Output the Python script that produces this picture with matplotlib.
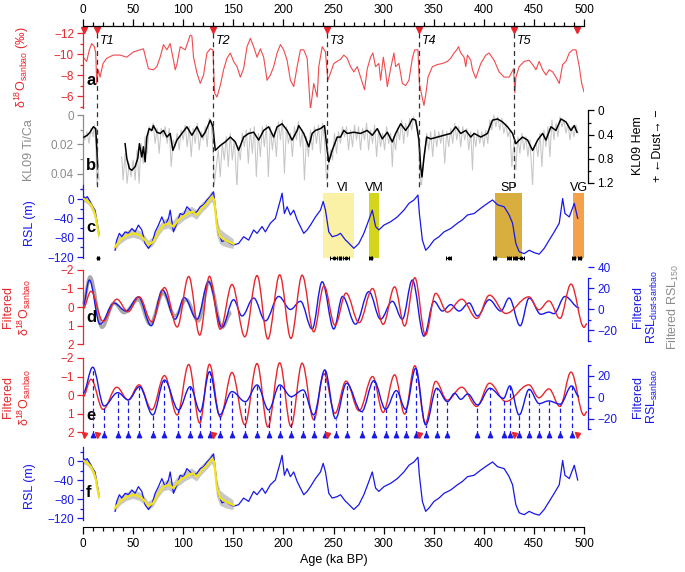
import numpy as np
import matplotlib.pyplot as plt
from matplotlib.path import Path
from matplotlib.patches import PathPatch
from matplotlib.lines import Line2D
from matplotlib.ticker import MultipleLocator, FuncFormatter
from matplotlib.transforms import blended_transform_factory

plt.rcParams['font.family'] = ['Liberation Sans', 'DejaVu Sans']
plt.rcParams['mathtext.fontset'] = 'custom'
plt.rcParams['mathtext.rm'] = 'Liberation Sans'
plt.rcParams['mathtext.it'] = 'Liberation Sans:italic'
plt.rcParams['mathtext.bf'] = 'Liberation Sans:bold'

# ---------------- data ----------------
# a: Sanbao d18O (permil)
d18o_t = [0, 3.7, 6.3, 8.7, 11.3, 12.7, 13.7, 15.3, 17, 20, 23.7, 30.3, 37, 43.7, 50.3, 57, 60.3,
          65.3, 70.3, 73.7, 77, 80.3, 83.7, 87, 90.3, 92, 93.7, 97, 102, 107, 108.7, 110.3, 113.7,
          117, 120.3, 123.7, 127, 129.7, 131.3, 133.7, 137, 140.3, 143.7, 147, 150.3, 153.7, 157,
          160.3, 163.7, 167, 170.3, 173.7, 177, 180.3, 183.7, 187, 190.3, 193.7, 197, 200.3, 203.7,
          207, 210.3, 213.7, 217, 220.3, 223.7, 227, 230.3, 233.7, 235.3, 238.7, 242, 244.3, 247,
          250.3, 257, 260.3, 263.7, 267, 270.3, 273.7, 277, 281, 283.7, 287, 289.3, 292, 295.3, 297,
          299.7, 302, 303.7, 307, 310.3, 312, 315.3, 318.7, 322, 325.3, 328.7, 331, 334.3, 335.7,
          338, 340.3, 342.3, 344.3, 348.7, 353.7, 358.7, 363.7, 367, 370.3, 373, 374.7, 377, 380.3,
          382, 383.7, 387, 388.7, 392, 397, 402, 405.3, 410.3, 415.3, 420.3, 425.3, 429.7, 431, 432,
          435.3, 440.3, 445.3, 448.7, 452, 455.3, 458.7, 462, 465.3, 468.7, 472, 475.3, 478.7, 482,
          485.3, 488.7, 492, 495.3, 497.7, 500]
d18o_v = [-9.7, -9.3, -10.4, -11.0, -10.7, -10.1, -7.2, -8.5, -7.8, -9.1, -9.6, -9.9, -9.9, -9.7,
          -10.2, -10.4, -10.5, -8.6, -8.5, -8.8, -9.7, -10.9, -10.4, -11.0, -9.4, -8.5, -9.0, -10.7,
          -10.4, -11.8, -11.7, -9.7, -8.2, -7.2, -8.0, -10.1, -10.5, -10.4, -6.3, -5.9, -7.0, -8.5,
          -9.6, -10.1, -9.3, -8.8, -7.8, -8.6, -10.7, -11.5, -10.7, -9.7, -10.5, -9.7, -7.5, -8.0,
          -8.8, -10.1, -10.9, -10.4, -9.4, -7.5, -6.9, -8.8, -10.4, -10.4, -9.6, -4.7, -7.2, -5.9,
          -8.8, -10.7, -10.2, -7.5, -8.2, -9.1, -9.5, -9.9, -9.6, -8.8, -8.3, -8.8, -7.8, -6.6, -8.6,
          -9.7, -10.1, -8.8, -9.1, -7.5, -9.7, -8.3, -6.9, -8.6, -10.1, -8.8, -9.1, -7.2, -7.0, -7.5,
          -9.6, -10.4, -10.4, -7.2, -6.1, -5.1, -6.3, -7.8, -8.8, -9.0, -9.1, -9.3, -9.6, -10.1,
          -10.4, -10.7, -10.1, -9.7, -8.8, -9.9, -9.4, -8.5, -7.7, -9.1, -9.9, -10.1, -9.4, -8.3,
          -7.8, -7.8, -8.6, -6.3, -7.8, -8.8, -9.3, -9.4, -9.0, -8.5, -9.3, -8.5, -8.0, -8.5, -8.3,
          -7.8, -7.2, -9.0, -9.3, -10.1, -10.4, -10.4, -8.8, -7.2, -6.4]
term_t = [1, 13.5, 130, 243.5, 335.5, 430, 493.5]
term_names = ['', 'T1', 'T2', 'T3', 'T4', 'T5', '']

# b: KL09 hematite (black, right axis) and Ti/Ca (grey, left axis)
hem_t = [1, 4.3, 7, 10.3, 12.7, 13.7, 14.7, 28,
         42, 43.7, 46.3, 48.7, 52, 54.7, 56.3, 58.7, 60.3, 62, 63.7, 66, 68.7, 70.3, 73.7, 77,
         80.3, 83.7, 87, 89.7, 93.7, 98.7, 103.7, 108.7, 113.7, 118.7, 122, 127, 129.7, 132, 137,
         142, 147, 152, 155.3, 160.3, 165.3, 170.3, 175.3, 180.3, 185.3, 190.3, 193.7, 198.7,
         203.7, 208.7, 213.7, 215.3, 220.3, 225.3, 228.7, 232, 237, 241, 243.7, 245.3, 248.7,
         253.7, 257, 260.3, 263.7, 270.3, 277, 283.7, 288.7, 293.7, 298.7, 303.7, 308.7, 312, 317,
         322, 325.3, 328.7, 332, 335.3, 337, 338.3, 340.3, 343, 347, 353.7, 360.3, 367, 372, 377,
         382, 387, 390.3, 397, 403.7, 408.7, 413.7, 418.7, 423.7, 428.7, 432, 435.3, 438.7, 443.7,
         448.7, 453.7, 458.7, 462, 467, 472, 477, 482, 487, 490.3, 493]
hem_v = [0.44, 0.41, 0.36, 0.27, 0.30, 0.60, 0.93, np.nan,
         0.55, 0.79, 0.96, 0.99, 0.93, 0.79, 0.55, 0.77, 0.60, 0.85, 0.44, 0.30, 0.33, 0.25, 0.36,
         0.38, 0.33, 0.44, 0.38, 0.66, 0.49, 0.38, 0.27, 0.41, 0.27, 0.44, 0.36, 0.16, 0.27, 0.66,
         0.58, 0.52, 0.44, 0.52, 0.66, 0.44, 0.38, 0.36, 0.49, 0.33, 0.27, 0.44, 0.27, 0.22, 0.33,
         0.49, 0.33, 0.25, 0.38, 0.60, 0.38, 0.33, 0.30, 0.25, 0.66, 0.85, 0.66, 0.44, 0.44, 0.33,
         0.38, 0.36, 0.38, 0.33, 0.41, 0.30, 0.47, 0.36, 0.52, 0.38, 0.22, 0.33, 0.25, 0.14, 0.16,
         0.49, 0.93, 1.10, 0.77, 0.44, 0.47, 0.44, 0.41, 0.38, 0.27, 0.38, 0.33, 0.44, 0.38, 0.44,
         0.38, 0.16, 0.14, 0.19, 0.27, 0.38, 0.55, 0.49, 0.44, 0.49, 0.66, 0.49, 0.38, 0.49, 0.27,
         0.33, 0.14, 0.19, 0.33, 0.25, 0.36]
tica_t = [0, 2, 4, 6, 8, 10, 11.5, 13, 14, 15, 16, 28,
          38.7, 40, 42, 44, 46, 48, 50, 52, 54, 56, 58, 60, 62, 64, 66, 68, 70, 72, 74, 76, 78, 80,
          82, 84, 86, 88, 90, 92, 94, 96, 98, 100, 102, 104, 106, 108, 110, 112, 114, 116, 118,
          120, 122, 124, 126, 128, 130, 131, 133, 135, 137, 139, 141, 143, 145, 147, 149, 151,
          153.7, 155, 157, 159, 161, 163, 165, 167, 169, 171, 173, 175, 177, 179, 181, 183, 185,
          187, 189, 191, 193, 195, 197, 199, 201, 203, 205, 207, 209, 211, 213, 215, 217, 219, 221,
          223, 225, 227, 229, 231, 233, 235, 237, 239, 241, 243, 245, 247, 249, 251, 253, 255, 257,
          259, 261, 263, 265, 267, 269, 271, 273, 275, 277, 279, 281, 283, 285, 287, 289, 291, 293,
          295, 297, 299, 301, 303, 305, 307, 308.7, 310, 312, 314, 316, 318, 320, 322, 324, 326,
          328, 330, 332, 334, 336, 337.5, 339, 341, 343, 345, 347, 349, 351, 353, 355, 357, 359,
          361, 363, 365, 367, 369, 371, 373, 375, 377, 379, 381, 383, 385, 387, 388.7, 390, 392,
          394, 396, 398, 400, 402, 404, 406, 408, 410, 412, 414, 416, 418, 420, 422, 424, 426, 428,
          430, 432, 434, 436, 438, 440, 442, 444, 446, 448.7, 450, 452, 454, 456, 458, 460, 462,
          464, 466, 468, 470, 472, 474, 476, 478, 480, 482, 484, 486, 488, 490, 492, 494]
tica_v = [0.0124, 0.0169, 0.0113, 0.0192, 0.0090, 0.0147, 0.0068, 0.0237, 0.0497, 0.0350,
          0.0441, np.nan,
          0.0282, 0.0441, 0.0260, 0.0463, 0.0328, 0.0418, 0.0305, 0.0441, 0.0237, 0.0463, 0.0192,
          0.0328, 0.0147, 0.0260, 0.0079, 0.0113, 0.0056, 0.0192, 0.0090, 0.0260, 0.0090, 0.0147,
          0.0079, 0.0192, 0.0090, 0.0350, 0.0169, 0.0215, 0.0124, 0.0237, 0.0102, 0.0169, 0.0068,
          0.0215, 0.0079, 0.0282, 0.0090, 0.0192, 0.0056, 0.0237, 0.0113, 0.0169, 0.0079, 0.0215,
          0.0023, 0.0056, 0.0260, 0.0475, 0.0350, 0.0237, 0.0418, 0.0192, 0.0305, 0.0147, 0.0350,
          0.0124, 0.0305, 0.0169, 0.0497, 0.0215, 0.0305, 0.0124, 0.0215, 0.0102, 0.0328, 0.0090,
          0.0260, 0.0079, 0.0418, 0.0124, 0.0282, 0.0079, 0.0215, 0.0068, 0.0418, 0.0079, 0.0237,
          0.0113, 0.0282, 0.0045, 0.0169, 0.0034, 0.0395, 0.0079, 0.0192, 0.0124, 0.0282, 0.0079,
          0.0169, 0.0045, 0.0215, 0.0102, 0.0441, 0.0147, 0.0282, 0.0102, 0.0237, 0.0079, 0.0192,
          0.0068, 0.0260, 0.0056, 0.0169, 0.0441, 0.0350, 0.0237, 0.0305, 0.0124, 0.0260, 0.0113,
          0.0192, 0.0079, 0.0147, 0.0079, 0.0237, 0.0102, 0.0215, 0.0068, 0.0169, 0.0079, 0.0237,
          0.0090, 0.0169, 0.0056, 0.0237, 0.0102, 0.0192, 0.0068, 0.0282, 0.0102, 0.0215, 0.0124,
          0.0237, 0.0079, 0.0192, 0.0124, 0.0350, 0.0147, 0.0237, 0.0090, 0.0169, 0.0034, 0.0192,
          0.0056, 0.0147, 0.0023, 0.0102, 0.0011, 0.0056, 0.0079, 0.0350, 0.0508, 0.0373, 0.0260,
          0.0124, 0.0237, 0.0113, 0.0282, 0.0102, 0.0215, 0.0113, 0.0192, 0.0102, 0.0328, 0.0113,
          0.0215, 0.0090, 0.0192, 0.0056, 0.0169, 0.0079, 0.0215, 0.0079, 0.0169, 0.0090, 0.0237,
          0.0113, 0.0373, 0.0124, 0.0215, 0.0102, 0.0192, 0.0113, 0.0215, 0.0102, 0.0192, 0.0034,
          0.0102, 0.0000, 0.0079, 0.0011, 0.0102, 0.0023, 0.0124, 0.0056, 0.0147, 0.0102, 0.0350,
          0.0192, 0.0373, 0.0147, 0.0260, 0.0124, 0.0237, 0.0147, 0.0282, 0.0169, 0.0475, 0.0237,
          0.0192, 0.0282, 0.0124, 0.0350, 0.0102, 0.0215, 0.0079, 0.0282, 0.0034, 0.0169, 0.0056,
          0.0147, 0.0011, 0.0079, 0.0034, 0.0124, 0.0056, 0.0169, 0.0079, 0.0147, 0.0068, 0.0124]

# c/f: relative sea level (m)
rsl_t = [0, 1.7, 4.3, 7, 9.7, 12, 13.7, 15.3, 16, 24,
         32, 33.7, 36.3, 38.7, 42, 45.3, 48.7, 52, 55.3, 58.7, 62, 65.3, 68.7, 72, 75.3, 78.7, 82,
         85.3, 87, 90.3, 93.7, 97, 100.3, 103.7, 107, 110.3, 113.7, 117, 120.3, 123.7, 127, 130.3,
         132, 133.7, 135.3, 138.7, 142, 147, 150.3, 155.3, 160.3, 165.3, 170.3, 173.7, 178.7, 182,
         187, 192, 197, 198.7, 201, 203.7, 207, 210.3, 213.7, 217, 220.3, 223.7, 227, 232, 237,
         239.7, 242, 245.3, 248.7, 253.7, 257, 262, 263.7, 267, 270.3, 275.3, 280.3, 285.3, 288.7,
         292, 295.3, 300.3, 307, 313.7, 320.3, 325.3, 330.3, 334.3, 335.7, 338.7, 342, 345.3, 350.3,
         355.3, 360.3, 367, 373.7, 378.7, 383.7, 390.3, 397, 403.7, 408.7, 413.7, 420.3, 425.3,
         428.7, 430.3, 432, 435.3, 440.3, 445.3, 450.3, 455.3, 460.3, 465.3, 470.3, 475.3, 478.7,
         481, 485.3, 490.3, 493.7]
rsl_v = [8, 1, 5, -5, -16, -23, -43, -64, -72, np.nan,
         -106, -85, -71, -78, -68, -71, -61, -68, -54, -64, -92, -102, -92, -68, -54, -37, -54,
         -40, -23, -68, -50, -30, -33, -16, -23, -30, -26, -16, -12, -2, 5, 15, -16, -50, -71, -88,
         -85, -92, -95, -92, -78, -85, -64, -71, -57, -68, -50, -40, -2, 12, -30, -16, -33, -23,
         -43, -57, -71, -64, -54, -37, -23, -5, -23, -68, -78, -75, -71, -85, -88, -95, -102, -92,
         -71, -43, -23, -57, -64, -54, -47, -37, -23, -9, -2, 8, -30, -85, -106, -99, -85, -78,
         -68, -61, -50, -43, -33, -30, -19, -9, -2, -12, -16, -33, -50, -71, -92, -109, -113, -106,
         -111, -114, -102, -85, -68, -50, 1, -30, -37, -9, -40]
# smoothed RSL (yellow) with its grey uncertainty half-width
yel_t = [1, 5, 8, 11, 13, 15, 16, 24,
         32, 37, 43.7, 50.3, 57, 62, 65.3, 70.3, 75.3, 80.3, 85.3, 90.3, 95.3, 102, 108.7, 113.7,
         118.7, 123.7, 128.7, 131, 133.7, 137, 142, 147, 150.3]
yel_v = [0, -5, -12, -25, -40, -65, -75, np.nan,
         -99, -85, -75, -71, -75, -85, -95, -88, -68, -54, -50, -57, -43, -33, -26, -33, -19, -9,
         5, -2, -57, -78, -85, -90, -93]
yel_err = [6, 6, 7, 8, 9, 10, 10, np.nan,
           9, 9, 9, 9, 9, 9, 9, 9, 10, 10, 11, 11, 11, 10, 10, 10, 10, 10, 11, 14, 18, 16, 14, 12,
           10]
# cave / coral sea-level windows
win_names = ['VI', 'VM', 'SP', 'VG']
win_start = [240, 285.5, 411, 489]
win_end = [270, 295.5, 438, 501]
win_colors = ['#FBF1A6', '#D6D51E', '#D8AE3E', '#F5A04A']
# dated sea-level markers
age_t = [15, 250, 256, 262, 287, 365, 411, 425, 431, 437, 490, 496]
age_err = [0.6, 3, 1, 3, 1.5, 2.5, 1.5, 2, 1.5, 3.5, 1.5, 1.5]

# d/e: filtered d18O (extrema, same filter in both panels)
fd18_t = [0, 8, 20, 33.7, 45, 56, 68.7, 81.3, 94, 105.5, 116.5, 126.2, 137, 148.7, 161.5, 173.7,
          184.5, 196.3, 207.5, 218.7, 230.3, 240.5, 251.5, 262.5, 275.5, 289, 299.5, 311, 321,
          331.2, 341.7, 352, 363.5, 378, 393, 405.7, 422, 445, 455, 465, 476, 487, 500, 503]
fd18_v = [0.1, -0.85, 0.78, -0.42, 0.26, -0.55, 0.8, -1.05, 1.08, -1.65, 1.52, -1.66, 1.2, -1.22,
          1.61, -1.7, 1.73, -1.74, 1.7, -1.72, 1.34, -1.14, 0.99, -0.75, 0.85, -1.0, 0.94, -1.09,
          1.03, -1.58, 1.52, -0.74, 0.28, -0.42, 0.62, -0.64, 0.35, -0.55, 0.15, -0.33, 0.62,
          -1.24, 1.1, 0.9]
# d: filtered RSL (dust-sanbao), blue, and RSL150, grey
frd_t = [0, 6.3, 17, 31, 43, 55.3, 68, 79.3, 92, 101, 113.7, 125.3, 138.7, 150.3, 158.7, 170.3,
         182, 195.3, 207, 217, 228.7, 238.7, 250.3, 259, 272, 285.3, 297, 308.7, 318.7, 328.7,
         340.3, 350.3, 358.7, 367, 375.3, 385.3, 393.7, 405.3, 417, 425.3, 436.3, 445.3, 457, 465,
         470, 481, 495.3]
frd_v = [3, 28, -14, 6, -1.5, 12, -15.5, 18.6, -9.3, 11.4, -9.3, 26.4, -17, 9.3, -6.2, 10.9,
         -10.9, 12.4, 0, 7.8, -18.6, 26.4, -18.6, 12.4, -14, 17, -9.3, 7.8, -9.3, 28, -25.4, 7.8,
         -1.5, 4.6, -1.5, 6.2, -6.2, 9.3, -1.5, 10.9, -15.5, 10.9, -4.6, -2.5, -4, 12.4, 1.5]
fr150_t = [0, 7, 19, 31, 41, 55, 67, 80, 92, 103, 115, 126, 139, 148]
fr150_v = [4.7, 31, -17, 6.2, -3.1, 9.3, -14, 15.5, -6.2, 9.3, -10.9, 26.4, -17, -3]
# e: filtered RSL (sanbao), blue, and its marked extrema
frs_t = [0, 9.7, 21, 34.7, 45.3, 56.3, 69.7, 81.3, 95.3, 107, 117, 126.3, 136.3, 148.7, 162,
         173.7, 185.3, 196.3, 207.7, 219.7, 230.3, 241.3, 252, 263, 278, 290.3, 302, 312.7, 322,
         332, 342, 353, 363.7, 371, 377, 384, 393.7, 406, 419.7, 426, 435.3, 445.3, 455.3, 464.7,
         476.3, 487.7, 495]
frs_v = [3.6, 27.9, -8.2, 4.2, -2.6, 9.8, -16.6, 16, -11.9, 9.8, -13.5, 23.8, -16.6, 5.2, -4.2,
         11.4, -11.9, 11.4, 0.5, 6.7, -16.6, 25.4, -20, 12.9, -13.5, 15.4, -11.3, 6.1, -11.3,
         26.9, -25.9, 8.3, -4.2, 3.6, -2, 3, -7.3, 8.3, -1.1, 10.5, -16.6, 7.3, -6, -3.5, -6.5,
         10.5, 0.5]
frs_marked = [9.7, 21, 34.7, 45.3, 56.3, 69.7, 81.3, 95.3, 107, 117, 126.3, 136.3, 148.7, 162,
              173.7, 185.3, 196.3, 207.7, 219.7, 230.3, 241.3, 252, 263, 278, 290.3, 302, 312.7,
              322, 332, 342, 353, 363.7, 393.7, 406, 419.7, 426, 435.3, 445.3, 455.3, 464.7,
              476.3, 487.7]

# ---------------- styling ----------------
RED = '#E8262C'
RED_A = '#F04A4E'
BLUE = '#1818E8'
GREY_TXT = '#8C8C8C'
GREY = '#C6C6C6'
YELLOW = '#F2E31A'
W, H = 685, 572
L, R = 83, 584


def box(top, bot):
    return [L / W, 1 - bot / H, (R - L) / W, (bot - top) / H]


def only(ax, sides, color):
    for s in ['top', 'bottom', 'left', 'right']:
        ax.spines[s].set_visible(s in sides)
    for s in sides:
        ax.spines[s].set_color(color)
        ax.spines[s].set_linewidth(0.9)
    ax.tick_params(axis='y', which='both', colors=color, labelsize=8.5, width=0.9, pad=2)
    ax.tick_params(axis='y', which='major', length=4.5)
    ax.tick_params(axis='y', which='minor', length=2.5)
    ax.set_xlim(0, 500)


def wave(ax, t, v, color, lw=1.0, zorder=2):
    verts = [(t[0], v[0])]
    codes = [Path.MOVETO]
    for i in range(1, len(t)):
        k = 0.36 * (t[i] - t[i - 1])
        verts += [(t[i - 1] + k, v[i - 1]), (t[i] - k, v[i]), (t[i], v[i])]
        codes += [Path.CURVE4] * 3
    ax.add_patch(PathPatch(Path(verts, codes), fill=False, edgecolor=color, lw=lw,
                           zorder=zorder, clip_on=False))


def fmt0(dec):
    return FuncFormatter(lambda v, p: '0' if abs(v) < 1e-9 else f'{v:.{dec}f}'.replace('-', '\u2212'))


fig = plt.figure(figsize=(W / 100, H / 100), dpi=100)

# ---- a ----
axa = fig.add_axes(box(26, 108))
only(axa, ['left', 'top'], RED)
axa.spines['top'].set_color('black')
axa.plot(d18o_t, d18o_v, color=RED_A, lw=0.8)
axa.set_ylim(-4.86, -12.67)
axa.spines['left'].set_bounds(-4.86, -12.15)
axa.yaxis.set_major_locator(MultipleLocator(2))
axa.yaxis.set_minor_locator(MultipleLocator(1))
axa.xaxis.tick_top()
axa.xaxis.set_major_locator(MultipleLocator(50))
axa.xaxis.set_minor_locator(MultipleLocator(10))
axa.tick_params(axis='x', which='both', colors='black', labelsize=8.5, width=0.9, pad=2)
axa.tick_params(axis='x', which='major', length=5)
axa.tick_params(axis='x', which='minor', length=3)
axa.plot(term_t, [-12.25] * len(term_t), 'v', color=RED, ms=4, clip_on=False)
for t, n in zip(term_t, term_names):
    if n:
        axa.text(t + 3, -11.2, n, style='italic', fontsize=9, va='center', ha='left')
axa.set_ylabel('δ$^{18}$O$_{\\mathrm{sanbao}}$ (‰)', color=RED, fontsize=9)
axa.yaxis.set_label_coords(-0.103, 0.5)
axa.text(0.006, 0.34, 'a', transform=axa.transAxes, fontsize=12, fontweight='bold', va='center')

# ---- b ----
axb = fig.add_axes(box(110, 190))
only(axb, ['left'], GREY_TXT)
axb.xaxis.set_visible(False)
axb.plot(tica_t, tica_v, color=GREY, lw=0.75)
axb.set_ylim(0.05085, -0.00339)
axb.spines['left'].set_bounds(0.049, 0)
axb.yaxis.set_major_locator(MultipleLocator(0.02))
axb.yaxis.set_minor_locator(MultipleLocator(0.01))
axb.yaxis.set_major_formatter(fmt0(2))
axb.set_ylabel('KL09 Ti/Ca', color=GREY_TXT, fontsize=9)
axb.yaxis.set_label_coords(-0.095, 0.5)
axb2 = axb.twinx()
only(axb2, ['right'], 'black')
axb2.xaxis.set_visible(False)
axb2.spines['right'].set_position(('outward', 3))
axb2.plot(hem_t, hem_v, color='black', lw=1.1)
axb2.set_ylim(1.316, -0.008)
axb2.spines['right'].set_bounds(1.2, 0)
axb2.yaxis.set_major_locator(MultipleLocator(0.4))
axb2.yaxis.set_minor_locator(MultipleLocator(0.2))
axb2.yaxis.set_major_formatter(fmt0(1))
axb2.text(1.108, 0.55, 'KL09 Hem', transform=axb2.transAxes, rotation=90, fontsize=9,
          va='center', ha='center')
axb2.text(1.148, 0.55, '+ \u2190Dust\u2192 \u2212', transform=axb2.transAxes, rotation=90,
          fontsize=9, va='center', ha='center')
axb.text(0.006, 0.31, 'b', transform=axb.transAxes, fontsize=12, fontweight='bold', va='center')


def rsl_panel(ax, ylim):
    only(ax, ['left'], BLUE)
    ax.set_ylim(*ylim)
    ax.yaxis.set_major_locator(MultipleLocator(40))
    ax.yaxis.set_minor_locator(MultipleLocator(20))
    lo = [v - e for v, e in zip(yel_v, yel_err)]
    hi = [v + e for v, e in zip(yel_v, yel_err)]
    ax.fill_between(yel_t, lo, hi, color='#C8C8C8', lw=0, zorder=1)
    ax.plot(rsl_t, rsl_v, color=BLUE, lw=0.9, zorder=2)
    ax.plot(yel_t, yel_v, color=YELLOW, lw=1.6, zorder=3)
    ax.set_ylabel('RSL (m)', color=BLUE, fontsize=9)
    ax.yaxis.set_label_coords(-0.094, 0.5)


# ---- c ----
axc = fig.add_axes(box(185, 262))
for n, s, e, c in zip(win_names, win_start, win_end, win_colors):
    axc.bar(s, 133, bottom=-121, width=e - s, align='edge', color=c, lw=0, zorder=0)
    axc.text((s + e) / 2 + (4 if n == 'VI' else 0), 22, n, fontsize=9, ha='center', va='center')
rsl_panel(axc, (-130.3, 29))
axc.xaxis.set_visible(False)
axc.spines['left'].set_bounds(-121, 29)
axc.errorbar(age_t, [-121] * len(age_t), xerr=age_err, fmt='o', color='black', ms=1.8,
             lw=0.7, capsize=1.5, capthick=0.7, zorder=4, clip_on=False)
axc.text(0.006, 0.45, 'c', transform=axc.transAxes, fontsize=12, fontweight='bold', va='center')

# ---- d ----
axd = fig.add_axes(box(266, 348))
only(axd, ['left'], RED)
axd.xaxis.set_visible(False)
axd.set_ylim(2.216, -2.216)
axd.spines['left'].set_bounds(2, -2)
axd.yaxis.set_major_locator(MultipleLocator(1))
axd.set_ylabel('Filtered\nδ$^{18}$O$_{\\mathrm{sanbao}}$', color=RED, fontsize=9, linespacing=1.1)
axd.yaxis.set_label_coords(-0.100, 0.5)
axd2 = axd.twinx()
only(axd2, ['right'], BLUE)
axd2.xaxis.set_visible(False)
axd2.spines['right'].set_position(('outward', 3))
axd2.set_ylim(-36.7, 41.4)
axd2.spines['right'].set_bounds(-30, 30)
axd2.yaxis.set_major_locator(MultipleLocator(20))
axd2.yaxis.set_minor_locator(MultipleLocator(10))
wave(axd2, fr150_t, fr150_v, '#A9A9A9', lw=2.4, zorder=1)
wave(axd2, frd_t, frd_v, BLUE, lw=1.0, zorder=2)
axd.set_zorder(2)
axd.patch.set_visible(False)
wave(axd, fd18_t, fd18_v, RED, lw=1.0)
axd2.set_ylabel('Filtered\nRSL$_{\\mathrm{dust\u2010sanbao}}$', color=BLUE, fontsize=9,
                linespacing=1.1, rotation=90)
axd2.yaxis.set_label_coords(1.096, 0.5)
axd2.text(1.178, 0.5, 'Filtered RSL$_{150}$', transform=axd2.transAxes, rotation=90,
          fontsize=9, color=GREY_TXT, va='center', ha='center')
axd.text(0.006, 0.37, 'd', transform=axd.transAxes, fontsize=12, fontweight='bold', va='center')

# ---- e ----
axe = fig.add_axes(box(356, 438))
only(axe, ['left'], RED)
axe.xaxis.set_visible(False)
axe.set_ylim(2.324, -2.108)
axe.spines['left'].set_bounds(2, -2)
axe.yaxis.set_major_locator(MultipleLocator(1))
axe.set_ylabel('Filtered\nδ$^{18}$O$_{\\mathrm{sanbao}}$', color=RED, fontsize=9, linespacing=1.1)
axe.yaxis.set_label_coords(-0.100, 0.5)
axe2 = axe.twinx()
only(axe2, ['right'], BLUE)
axe2.xaxis.set_visible(False)
axe2.spines['right'].set_position(('outward', 3))
axe2.set_ylim(-38.1, 38.4)
axe2.spines['right'].set_bounds(-30, 30)
axe2.yaxis.set_major_locator(MultipleLocator(20))
axe2.yaxis.set_minor_locator(MultipleLocator(10))
lookup = dict(zip(frs_t, frs_v))
axe2.vlines(frs_marked, -35.3, [lookup[t] for t in frs_marked], colors=BLUE, lw=0.9,
            linestyles=(0, (3.5, 2.5)), zorder=1)
axe2.plot(frs_marked, [-35.3] * len(frs_marked), '^', color=BLUE, ms=3.2, clip_on=False)
axe2.plot(term_t, [-35.3] * len(term_t), 'v', color=RED, ms=3.6, clip_on=False)
wave(axe, fd18_t, fd18_v, RED, lw=1.0)
wave(axe2, frs_t, frs_v, BLUE, lw=1.0, zorder=3)
axe2.set_ylabel('Filtered\nRSL$_{\\mathrm{sanbao}}$', color=BLUE, fontsize=9, linespacing=1.1,
                rotation=90)
axe2.yaxis.set_label_coords(1.096, 0.5)
axe.text(0.006, 0.28, 'e', transform=axe.transAxes, fontsize=12, fontweight='bold', va='center')

# ---- f ----
axf = fig.add_axes(box(446, 527))
rsl_panel(axf, (-138.9, 31.6))
axf.spines['bottom'].set_visible(True)
axf.spines['bottom'].set_color('black')
axf.spines['left'].set_bounds(-124, 30)
axf.xaxis.set_major_locator(MultipleLocator(50))
axf.xaxis.set_minor_locator(MultipleLocator(10))
axf.tick_params(axis='x', which='both', colors='black', labelsize=8.5, width=0.9, pad=3)
axf.tick_params(axis='x', which='major', length=5)
axf.tick_params(axis='x', which='minor', length=3)
axf.set_xlabel('Age (ka BP)', fontsize=9, labelpad=3)
axf.text(0.006, 0.42, 'f', transform=axf.transAxes, fontsize=12, fontweight='bold', va='center')

# termination dashed lines spanning panels a-b
tr = blended_transform_factory(axa.transData, fig.transFigure)
for t, n in zip(term_t, term_names):
    if n:
        fig.add_artist(Line2D([t, t], [1 - 33 / H, 1 - 190 / H], transform=tr, color='#333333',
                              lw=0.9, ls=(0, (4, 3)), zorder=0.5))

fig.savefig('out.png', dpi=100)
